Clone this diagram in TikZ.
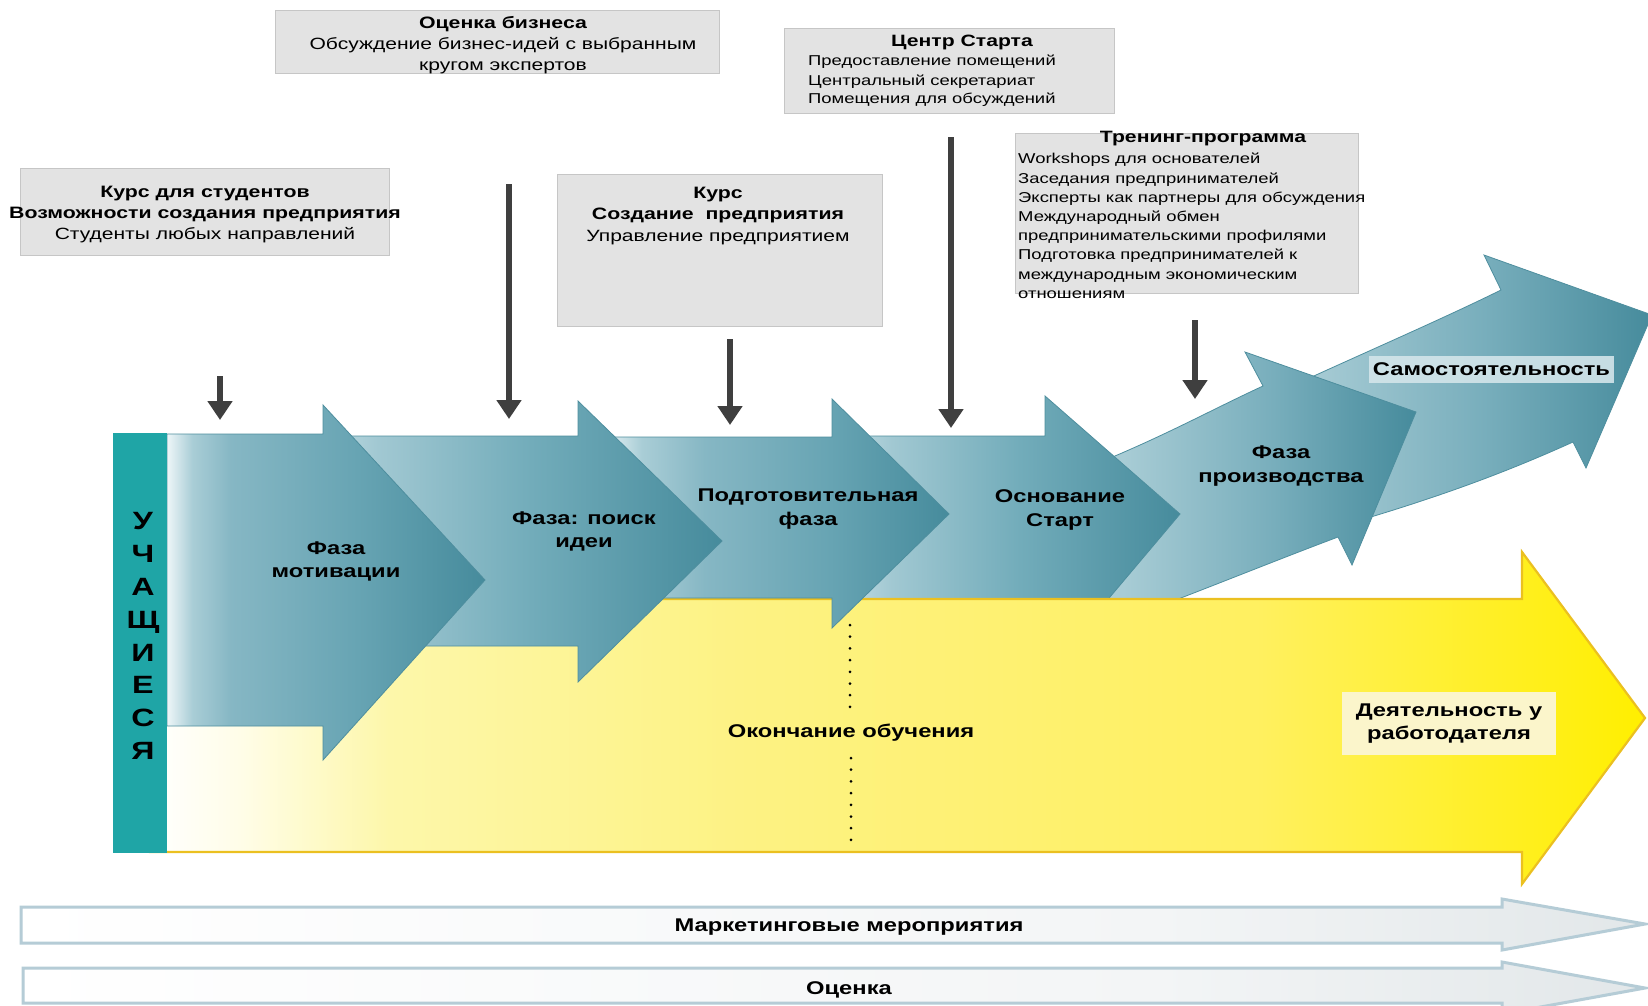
\documentclass[tikz,border=0pt]{standalone}
\usepackage{fontspec}
\setmainfont[FakeStretch=1.29]{Liberation Sans}
\usetikzlibrary{arrows.meta}

\definecolor{tealbar}{HTML}{1FA5A6}
\definecolor{tedge}{HTML}{4E8E9E}
\definecolor{ta0}{HTML}{EEF6F8}
\definecolor{ta1}{HTML}{A9CDD6}
\definecolor{ta2}{HTML}{86B7C4}
\definecolor{ta3}{HTML}{67A4B3}
\definecolor{ta4}{HTML}{468B9C}
\definecolor{tb0}{HTML}{B6D5DD}
\definecolor{tb1}{HTML}{A1C8D2}
\definecolor{tb2}{HTML}{72ACBA}
\definecolor{td1}{HTML}{A8CCD5}
\definecolor{td2}{HTML}{78AEBC}
\definecolor{y1}{HTML}{FFFDE8}
\definecolor{y2}{HTML}{FDF7AA}
\definecolor{y3}{HTML}{FDF283}
\definecolor{y4}{HTML}{FFF060}
\definecolor{y5}{HTML}{FFEF00}
\definecolor{yedge}{HTML}{EBC020}
\definecolor{g1}{HTML}{F3F5F6}
\definecolor{g2}{HTML}{E2E7E9}
\definecolor{gedge}{HTML}{B5CCD6}
\definecolor{boxgray}{HTML}{E3E3E3}
\definecolor{boxedge}{HTML}{C6C6C6}
\definecolor{darrow}{HTML}{3F3F3F}
\definecolor{samobg}{HTML}{D3E5EA}
\definecolor{workbg}{HTML}{FBF5CB}

\pgfdeclarehorizontalshading{shA}{100bp}{color(0bp)=(ta0); color(25bp)=(ta0); color(29bp)=(ta1); color(35bp)=(ta2); color(55bp)=(ta3); color(75bp)=(ta4); color(100bp)=(ta4)}
\pgfdeclarehorizontalshading{shB}{100bp}{color(0bp)=(tb0); color(25bp)=(tb0); color(30bp)=(tb1); color(50bp)=(tb2); color(75bp)=(ta4); color(100bp)=(ta4)}
\pgfdeclarehorizontalshading{shC}{100bp}{color(0bp)=(ta0); color(25bp)=(ta0); color(31bp)=(ta1); color(40bp)=(ta2); color(58bp)=(ta3); color(75bp)=(ta4); color(100bp)=(ta4)}
\pgfdeclarehorizontalshading{shD}{100bp}{color(0bp)=(tb0); color(25bp)=(tb0); color(36bp)=(td1); color(56bp)=(td2); color(75bp)=(ta4); color(100bp)=(ta4)}
\pgfdeclarehorizontalshading{shY}{100bp}{color(0bp)=(white); color(25bp)=(white); color(28bp)=(y1); color(33bp)=(y2); color(45bp)=(y3); color(62bp)=(y4); color(75bp)=(y5); color(100bp)=(y5)}
\pgfdeclarehorizontalshading{shG}{100bp}{color(0bp)=(white); color(25bp)=(white); color(60bp)=(g1); color(75bp)=(g2); color(100bp)=(g2)}

\tikzset{
  box/.style={fill=boxgray, draw=boxedge, line width=1pt, inner sep=0pt},
  tr/.style={font=\fontsize{16.3}{19}\selectfont, inner sep=0pt, anchor=mid, yshift=-2.5pt},
  tb/.style={font=\fontsize{16.5}{19}\selectfont\bfseries, inner sep=0pt, anchor=mid, yshift=-2.5pt},
  ts/.style={font=\fontsize{14.3}{18}\selectfont, inner sep=0pt, anchor=mid west, yshift=-2.3pt},
  tsb/.style={font=\fontsize{16.4}{19}\selectfont\bfseries, inner sep=0pt, anchor=mid, yshift=-2.3pt},
  lab/.style={font=\fontsize{18.4}{23.5}\selectfont\bfseries, inner sep=0pt, anchor=mid, yshift=-4pt},
  labm/.style={font=\fontsize{18.4}{23.5}\selectfont\bfseries, inner sep=0pt, anchor=center, align=center},
  tarrow/.style={draw=tedge, line width=0.8pt},
  darr/.style={draw=darrow, line width=5.5pt, -{Triangle[width=24pt,length=19pt]}},
  dotline/.style={draw=black, line width=3pt, line cap=round, dash pattern=on 0pt off 11.7pt},
}

\begin{document}
\begin{tikzpicture}[x=1pt,y=-1pt]
\useasboundingbox (0,0) rectangle (1648,1005);
\clip (0,0) rectangle (1648,1005);
\fill[white] (0,0) rectangle (1648,1005);

% bottom arrows
\shadedraw[shading=shG, draw=gedge, line width=3pt] (21,907) -- (1502,907) -- (1502,899) -- (1645,924) -- (1502,950) -- (1502,943) -- (21,943) -- cycle;
\shadedraw[shading=shG, draw=gedge, line width=3pt] (23,968) -- (1502,968) -- (1502,962) -- (1645,988) -- (1502,1014) -- (1502,1003) -- (23,1003) -- cycle;
\node[lab] (mark) at (849,925) {Маркетинговые мероприятия};
\node[lab] (ocen) at (849,988) {Оценка};

% grey boxes
\node[box, minimum width=444pt, minimum height=63pt] (boxA) at (497,41.5) {};
\node[box, minimum width=369pt, minimum height=87pt] (boxB) at (204.5,211.5) {};
\node[box, minimum width=325pt, minimum height=152pt] (boxC) at (719.5,250) {};
\node[box, minimum width=330pt, minimum height=85pt] (boxD) at (949,70.5) {};
\node[box, minimum width=343pt, minimum height=160pt] (boxE) at (1186.5,213) {};

\node[tb] (a1) at (503,23.5) {Оценка бизнеса};
\node[tr] (a2) at (503,44.5) {Обсуждение бизнес-идей с выбранным};
\node[tr] (a3) at (503,65.5) {кругом экспертов};

\node[tb] (b1) at (205,192.5) {Курс для студентов};
\node[tb] (b2) at (205,213.5) {Возможности создания предприятия};
\node[tr] (b3) at (205,234.5) {Студенты любых направлений};

\node[tb] (c1) at (718,193) {Курс};
\node[tb] (c2) at (718,214) {Создание\ \ предприятия};
\node[tr] (c3) at (718,236) {Управление предприятием};

\node[tsb] (d1) at (962,42) {Центр Старта};
\node[ts] (d2) at (808,61) {Предоставление помещений};
\node[ts] (d3) at (808,81) {Центральный секретариат};
\node[ts] (d4) at (808,99) {Помещения для обсуждений};

\node[tsb] (e0) at (1203,138) {Тренинг-программа};
\node[ts] (e1) at (1018,159) {Workshops для основателей};
\node[ts] (e2) at (1018,179) {Заседания предпринимателей};
\node[ts] (e3) at (1018,198) {Эксперты как партнеры для обсуждения};
\node[ts] (e4) at (1018,217) {Международный обмен};
\node[ts] (e5) at (1018,236) {предпринимательскими профилями};
\node[ts] (e6) at (1018,255) {Подготовка предпринимателей к};
\node[ts] (e7) at (1018,275) {международным экономическим};
\node[ts] (e8) at (1018,294) {отношениям};

% curved and back teal arrows
\shadedraw[shading=shD, tarrow] (1210,425) .. controls (1300,380) and (1420,330) .. (1501,290) -- (1484,255) -- (1652,315) -- (1586,468) -- (1573,442) .. controls (1500,475) and (1420,505) .. (1290,540) -- cycle;
\shadedraw[shading=shD, tarrow] (1040,485) .. controls (1140,450) and (1200,415) .. (1263,386) -- (1245,352) -- (1416,412) -- (1352,565) -- (1338,537) .. controls (1250,570) and (1150,612) .. (1040,650) -- cycle;
\shadedraw[shading=shB, tarrow] (860,436) -- (1045,436) -- (1045,396) -- (1180,514) -- (1045,674) -- (860,674) -- cycle;

% yellow arrow
\shadedraw[shading=shY, draw=yedge, line width=2.2pt] (150,599) -- (1522,599) -- (1522,552) -- (1645,718) -- (1522,884) -- (1522,852) -- (150,852) -- cycle;

% front teal arrows
\shadedraw[shading=shC, tarrow] (600,437) -- (832,437) -- (832,399) -- (949,514) -- (832,628) -- (832,598) -- (600,598) -- cycle;
\shadedraw[shading=shB, tarrow] (340,436) -- (578,436) -- (578,401) -- (722,541) -- (578,682) -- (578,646) -- (340,646) -- cycle;
\shadedraw[shading=shA, tarrow] (167,434) -- (323,434) -- (323,405) -- (485,580) -- (323,760) -- (323,726) -- (167,726) -- cycle;

% learners bar
\fill[tealbar] (113,433) rectangle (167,853);
\node[font=\fontsize{25}{32.9}\selectfont\bfseries, align=center, inner sep=0pt] (learn) at (143,636) {У\\Ч\\А\\Щ\\И\\Е\\С\\Я};

% arrow labels
\node[labm] (l1) at (336,561.5) {Фаза\\мотивации};
\node[labm] (l2) at (584,531.5) {Фаза: поиск\\идеи};
\node[labm] (l3) at (808,509) {Подготовительная\\фаза};
\node[labm] (l4) at (1060,510) {Основание\\Старт};
\node[labm] (l5) at (1281,466) {Фаза\\производства};
\node[labm, fill=samobg, fill opacity=0.9, text opacity=1, minimum width=245pt, minimum height=27pt] (samo) at (1491.5,369) {Самостоятельность};
\node[labm, fill=workbg, minimum width=214pt, minimum height=63pt] (work) at (1449,723.5) {Деятельность у\\работодателя};
\node[lab] (grad) at (851,731) {Окончание обучения};

% dotted line
\coordinate (dA) at (850,625);
\coordinate (dB) at (850,710);
\coordinate (dC) at (851,758);
\coordinate (dD) at (851,842);
\draw[dotline] (dA) -- (dB);
\draw[dotline] (dC) -- (dD);

% dark arrows
\coordinate (s1) at (220,376); \coordinate (t1) at (220,420);
\coordinate (s2) at (509,184); \coordinate (t2) at (509,419);
\coordinate (s3) at (730,339); \coordinate (t3) at (730,425);
\coordinate (s4) at (951,137); \coordinate (t4) at (951,428);
\coordinate (s5) at (1195,320); \coordinate (t5) at (1195,399);
\draw[darr] (s1) -- (t1);
\draw[darr] (s2) -- (t2);
\draw[darr] (s3) -- (t3);
\draw[darr] (s4) -- (t4);
\draw[darr] (s5) -- (t5);
\end{tikzpicture}
\end{document}
